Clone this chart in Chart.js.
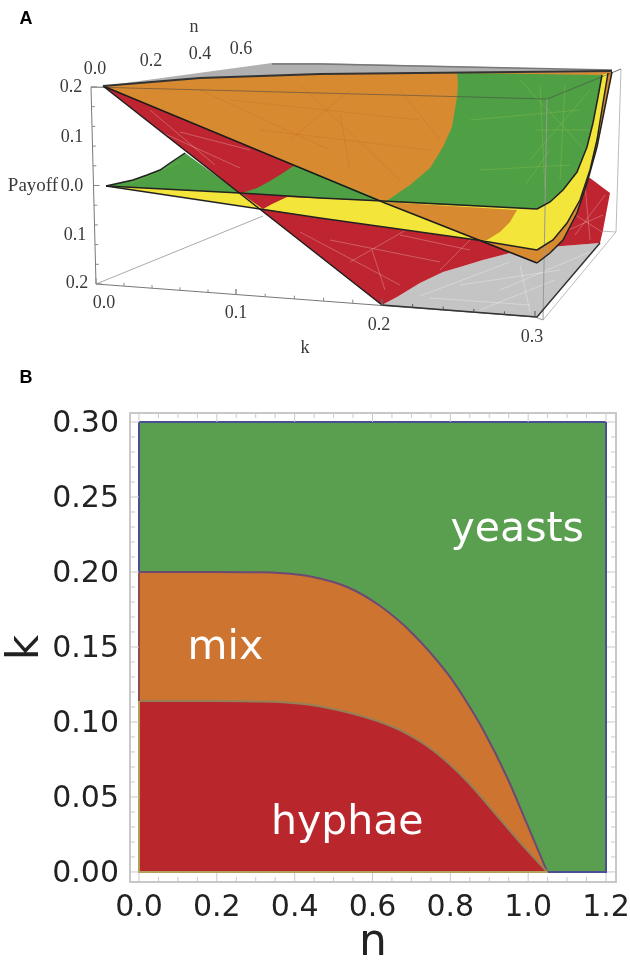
<!DOCTYPE html>
<html>
<head>
<meta charset="utf-8">
<script src="https://cdn.jsdelivr.net/npm/chart.js@4/dist/chart.umd.min.js"></script>
<style>
html, body { margin: 0; padding: 0; background: #fff; }
canvas { position: absolute; left: 0; }
#panelA { top: 0; }
#panelB { top: 365px; }
</style>
</head>
<body>
<canvas id="panelA" width="630" height="365"></canvas>
<canvas id="panelB" width="630" height="595"></canvas>
<script>
// panel B: phase diagram
var nTickLabels = [0, 0.2, 0.4, 0.6, 0.8, 1.0, 1.2];
var kTickLabels = [0, 0.05, 0.10, 0.15, 0.20, 0.25, 0.30];
var mixN = [0, 0.2, 0.3, 0.362, 0.447, 0.535, 0.62, 0.704, 0.792, 0.833, 0.884, 0.946, 0.997, 1.049];
var mixUpperK = [0.2, 0.2, 0.1998, 0.1993, 0.1967, 0.19, 0.1773, 0.1587, 0.1325, 0.117, 0.095, 0.063, 0.032, 0];
var hyphaeN = [0, 0.2, 0.3, 0.362, 0.447, 0.535, 0.62, 0.671, 0.756, 0.843, 0.928, 0.997, 1.049];
var hyphaeUpperK = [0.114, 0.114, 0.1137, 0.1133, 0.1112, 0.1065, 0.1, 0.0945, 0.081, 0.0605, 0.035, 0.0145, 0];
var yeastN = [0, 1.2];
var yeastK = [0.3, 0.3];

// panel A: surfaces, in projected plot units
var graySliver = [[103,86],[272,63],[320,63],[612,70],[612,74],[320,75]];
var floorCurve = [[600,243],[550,247],[510,253],[483,260],[460,267],[443,272],[420,283],[397,297],[382,305]];
var grayFloor = [[382,305],[537,317],[600,243]].concat(floorCurve.slice(1, 8));
var redSurface = [[103,86],[590,178],[610,193],[603,230]].concat(floorCurve);
var orangeRight = [[612,72],[605,107],[597,147],[587,183],[577,213],[563,240],[550,253],[537,263]];
var orangeSurface = [[103,86],[200,78],[320,74]].concat(orangeRight, [[385,203]]);
var yellowLeft = [[106,186],[240,193],[263,209]];
var greenCurve = [[106,186],[133,180],[147,175],[160,170],[170,163],[185,153]];
var greenLeft = greenCurve.concat([[240,193]]);
var yellowCurve = [[608,73],[603,103],[597,140],[590,170],[580,200],[567,223],[553,240],[537,250]];
var yellowRight = [[263,209],[272,204],[287,197],[383,201],[537,209],[602,75]].concat(yellowCurve, [[477,240],[320,218]]);
var orangePatch = [[385,202],[517,210],[510,222],[500,232],[487,240],[477,240]];
var greenLower = [[242,193],[320,198],[383,201],[385,202],[295,165],[283,173],[270,181],[257,188]];
var greenCurveRight = [[537,209],[550,202],[563,190],[577,172],[587,147],[593,123],[598,97],[602,75]];
var greenUpper = [[385,202]].concat(greenCurveRight, [[457,73],[458,85],[457,97],[452,127],[443,147],[430,168],[410,185]]);

var edgeTop = [[103,86],[200,78],[320,74],[612,71]];
var edgeBack = [[272,64],[320,64],[612,70]];
var edgeOrangeFront = [[103,86],[385,203],[537,263]];
var edgeYellowFront = [[106,186],[260,209],[320,218],[477,240],[537,250]];
var edgeGreenFront = [[106,186],[240,193],[320,198],[383,201],[537,209]];
var edgeRedLine = [[103,86],[382,305]];
var edgeFloor = [[382,305],[537,317],[600,243]];

var boxFront = [[91,87],[96,284],[535,317]];
var boxFloorBack = [[96,284],[263,216]];
var boxTop = [[91,87],[547,99],[621,69],[616,232],[543,320]];
var boxRight = [[547,99],[543,320],[535,317]];
var boxFloorRight = [[616,232],[600,231]];

// faint mesh lines left on the surfaces by the plotting, two points each
var meshRed = [[[130,118],[240,168]],[[150,110],[215,165]],[[180,132],[250,150]],[[330,240],[440,262]],[[350,262],[420,222]],[[300,232],[400,285]],[[400,235],[470,250]],[[440,270],[480,230]],[[372,250],[385,290]],[[560,205],[602,232]],[[575,235],[605,195]],[[585,185],[590,240]],[[545,240],[603,215]]];
var meshGreen = [[[520,80],[585,150]],[[590,90],[530,160]],[[540,85],[545,190]],[[470,120],[580,110]],[[480,170],[570,165]],[[535,130],[590,130]],[[565,85],[560,180]],[[525,185],[550,150]],[[130,184],[180,162]],[[330,180],[370,195]]];
var meshOrange = [[[200,90],[330,150]],[[300,85],[400,180]],[[350,90],[290,140]],[[230,100],[420,120]],[[340,115],[350,170]],[[400,90],[440,140]],[[260,130],[430,150]],[[410,210],[490,225]]];
var meshGray = [[[430,298],[530,305]],[[460,285],[560,270]],[[420,296],[510,262]],[[500,290],[590,252]],[[480,310],[555,280]],[[520,265],[530,312]]];

function xy(list) {
    return list.map(function(p) { return { x: p[0], y: p[1] }; });
}

function surface(list, color) {
    return {
        data: xy(list),
        showLine: true,
        tension: 0,
        pointRadius: 0,
        borderWidth: 0,
        backgroundColor: color,
        fill: "shape"
    };
}

function edge(list, color, width) {
    return {
        data: xy(list),
        showLine: true,
        tension: 0,
        pointRadius: 0,
        borderWidth: width,
        borderColor: color,
        fill: false
    };
}

function mesh(segments, color) {
    var pts = [];
    segments.forEach(function(s) {
        pts.push({ x: s[0][0], y: s[0][1] });
        pts.push({ x: s[1][0], y: s[1][1] });
        pts.push({ x: s[1][0], y: null });
    });
    return { data: pts, showLine: true, tension: 0, pointRadius: 0, borderWidth: 1, borderColor: color, fill: false };
}

// tick marks of the box axes between the two ends of an axis piece
function axisTicks(from, to, count, majorEvery, dx, dy, color) {
    var pts = [];
    for (var i = 0; i <= count; i++) {
        var px = from[0] + (to[0] - from[0]) * i / count;
        var py = from[1] + (to[1] - from[1]) * i / count;
        var len = i % majorEvery === 0 ? 1 : 0.55;
        pts.push({ x: px, y: py });
        pts.push({ x: px + dx * len, y: py + dy * len });
        pts.push({ x: px, y: null });
    }
    return { data: pts, showLine: true, tension: 0, pointRadius: 0, borderWidth: 1, borderColor: color, fill: false };
}

var labelsA = {
    id: "labelsA",
    afterDatasetsDraw: function(chart) {
        var ctx = chart.ctx;
        var sx = chart.scales.x;
        var sy = chart.scales.y;
        function put(text, x, y, font) {
            ctx.font = font;
            ctx.fillText(text, sx.getPixelForValue(x), sy.getPixelForValue(y));
        }
        ctx.save();
        ctx.textAlign = "center";
        ctx.textBaseline = "middle";
        ctx.fillStyle = "#3a3a3a";
        var serif = "18px 'Liberation Serif'";
        put("n", 194, 27, serif);
        put("0.6", 241, 49, serif);
        put("0.4", 200, 54, serif);
        put("0.2", 151, 61, serif);
        put("0.0", 95, 69, serif);
        put("0.2", 71, 87, serif);
        put("0.1", 72, 137, serif);
        put("0.0", 72, 186, serif);
        put("Payoff", 33, 186, "19px 'Liberation Serif'");
        put("0.1", 75, 235, serif);
        put("0.2", 77, 283, serif);
        put("0.0", 104, 303, serif);
        put("0.1", 236, 313, serif);
        put("0.2", 379, 325, serif);
        put("0.3", 532, 337, serif);
        put("k", 305, 348, serif);
        ctx.fillStyle = "#000";
        put("A", 26, 19, "bold 18px 'Liberation Sans'");
        ctx.restore();
    }
};

var layersA = [
    edge(boxFloorBack, "#aaa", 1),
    edge(boxFloorRight, "#bbb", 1),
    edge(boxTop, "#bbb", 1),
    surface(graySliver, "#b0b0b0"),
    edge(edgeBack, "#777", 1.5),
    surface(grayFloor, "#c4c4c4"),
    mesh(meshGray, "rgba(255,255,255,0.3)"),
    surface(redSurface, "#bf2530"),
    mesh(meshRed, "rgba(255,255,255,0.25)"),
    surface(orangeSurface, "#d88a30"),
    mesh(meshOrange, "rgba(190,90,30,0.22)"),
    surface(yellowLeft, "#f3e53a"),
    surface(greenLeft, "#4f9f45"),
    surface(yellowRight, "#f3e53a"),
    surface(orangePatch, "#d88a30"),
    surface(greenLower, "#4f9f45"),
    surface(greenUpper, "#4f9f45"),
    mesh(meshGreen, "rgba(170,210,80,0.25)"),
    edge(boxTop.slice(0, 3), "rgba(70,70,70,0.55)", 1),
    edge(boxRight, "#999", 1),
    edge(boxFront, "#777", 1),
    edge(edgeFloor, "#333", 1.5),
    edge(orangeRight, "#222", 1.5),
    edge(edgeOrangeFront, "#1c1c1c", 1.5),
    edge(edgeYellowFront, "#222", 1.5),
    edge(yellowCurve, "#222", 1.5),
    edge(edgeGreenFront, "#222", 1.5),
    edge(greenCurveRight, "#222", 1.5),
    edge(greenCurve, "#222", 1.5),
    edge(edgeRedLine, "#1c1c1c", 1.5),
    edge(edgeTop, "#333", 2),
    axisTicks([91, 87], [96, 284], 10, 5, 6, 0, "#888"),
    axisTicks([96, 284], [236, 295], 5, 5, 0, -6, "#888"),
    axisTicks([236, 295], [382, 305], 5, 5, 0, -6, "#888"),
    axisTicks([382, 305], [535, 317], 5, 5, 0, -6, "#555")
];
layersA.forEach(function(d, i) { d.order = layersA.length - i; });

new Chart(document.getElementById("panelA"), {
    type: "scatter",
    data: { datasets: layersA },
    options: {
        responsive: false,
        animation: false,
        layout: { padding: 0 },
        plugins: { legend: { display: false }, tooltip: { enabled: false } },
        scales: {
            x: { type: "linear", display: false, min: 0, max: 630 },
            y: { type: "linear", display: false, min: 0, max: 365, reverse: true }
        }
    },
    plugins: [labelsA]
});

function zip(xs, ys) {
    return xs.map(function(x, i) { return { x: x, y: ys[i] }; });
}

function region(xs, ys, fillColor, lineColor) {
    return {
        data: zip(xs, ys),
        showLine: true,
        cubicInterpolationMode: "monotone",
        pointRadius: 0,
        borderWidth: 2,
        borderColor: lineColor,
        backgroundColor: fillColor,
        fill: "origin"
    };
}

// frame, inward ticks and the text labels of panel B
var frameB = {
    id: "frameB",
    afterDatasetsDraw: function(chart) {
        var ctx = chart.ctx;
        var a = chart.chartArea;
        var sx = chart.scales.x;
        var sy = chart.scales.y;
        ctx.save();
        ctx.strokeStyle = "#c8c8c8";
        ctx.lineWidth = 2;
        ctx.strokeRect(a.left, a.top, a.right - a.left, a.bottom - a.top);
        ctx.lineWidth = 1;
        ctx.beginPath();
        var i, p, len;
        for (i = 0; i <= 24; i++) {
            p = sx.getPixelForValue(i * 0.05);
            len = i % 4 === 0 ? 9 : 5;
            ctx.moveTo(p, a.bottom);
            ctx.lineTo(p, a.bottom - len);
            ctx.moveTo(p, a.top);
            ctx.lineTo(p, a.top + len);
        }
        for (i = 0; i <= 30; i++) {
            p = sy.getPixelForValue(i * 0.01);
            len = i % 5 === 0 ? 9 : 5;
            ctx.moveTo(a.left, p);
            ctx.lineTo(a.left + len, p);
            ctx.moveTo(a.right, p);
            ctx.lineTo(a.right - len, p);
        }
        ctx.stroke();

        ctx.fillStyle = "#fff";
        ctx.font = "41px 'DejaVu Sans'";
        ctx.textAlign = "center";
        ctx.textBaseline = "alphabetic";
        ctx.fillText("yeasts", sx.getPixelForValue(0.972), sy.getPixelForValue(0.2205));
        ctx.fillText("mix", sx.getPixelForValue(0.222), sy.getPixelForValue(0.142));
        ctx.fillText("hyphae", sx.getPixelForValue(0.535), sy.getPixelForValue(0.0255));
        ctx.fillStyle = "#000";
        ctx.font = "bold 18px 'Liberation Sans'";
        ctx.fillText("B", 26, 18);
        ctx.restore();
    }
};

new Chart(document.getElementById("panelB"), {
    type: "scatter",
    data: {
        datasets: [
            Object.assign(edge([[0, 0.3], [0, 0.2]], "#4a4f94", 2), { order: 1 }),
            Object.assign(edge([[1.2, 0.3], [1.2, 0], [1.05, 0]], "#4a4f94", 2), { order: 1 }),
            Object.assign(edge([[0, 0.2], [0, 0.114]], "#8f4a50", 2), { order: 1 }),
            Object.assign(edge([[0, 0.114], [0, 0], [1.05, 0]], "#b3a05a", 2), { order: 1 }),
            Object.assign(region(hyphaeN, hyphaeUpperK, "#b9272d", "#948058"), { order: 2 }),
            Object.assign(region(mixN, mixUpperK, "#cc7430", "#6d4a72"), { order: 3 }),
            Object.assign(region(yeastN, yeastK, "#5a9f4f", "#4a4f94"), { order: 4 })
        ]
    },
    options: {
        responsive: false,
        animation: false,
        layout: { padding: { right: 14, top: 48, bottom: 0, left: 0 } },
        plugins: { legend: { display: false }, tooltip: { enabled: false } },
        scales: {
            x: {
                type: "linear",
                min: -0.0231,
                max: 1.2257,
                grid: { display: false },
                border: { display: false },
                afterFit: function(s) { s.height = 78; s.paddingRight = 0; s.paddingLeft = 0; },
                afterBuildTicks: function(s) { s.ticks = nTickLabels.map(function(v) { return { value: v }; }); },
                ticks: {
                    padding: 0,
                    maxRotation: 0,
                    autoSkip: false,
                    color: "#222",
                    font: { family: "'DejaVu Sans'", size: 30 },
                    callback: function(v) { return v.toFixed(1); }
                },
                title: { display: true, text: "n", color: "#222", padding: { top: 0, bottom: -10 }, font: { family: "'DejaVu Sans'", size: 44 } }
            },
            y: {
                type: "linear",
                min: -0.0067,
                max: 0.306,
                grid: { display: false },
                border: { display: false },
                afterFit: function(s) { s.width = 130; s.paddingTop = 0; s.paddingBottom = 0; },
                afterBuildTicks: function(s) { s.ticks = kTickLabels.map(function(v) { return { value: v }; }); },
                ticks: {
                    padding: 3,
                    labelOffset: 2,
                    autoSkip: false,
                    color: "#222",
                    font: { family: "'DejaVu Sans'", size: 30 },
                    callback: function(v) { return v.toFixed(2); }
                },
                title: { display: true, text: "k", color: "#222", padding: 0, font: { family: "'DejaVu Sans'", size: 44 } }
            }
        }
    },
    plugins: [frameB]
});
</script>
</body>
</html>
